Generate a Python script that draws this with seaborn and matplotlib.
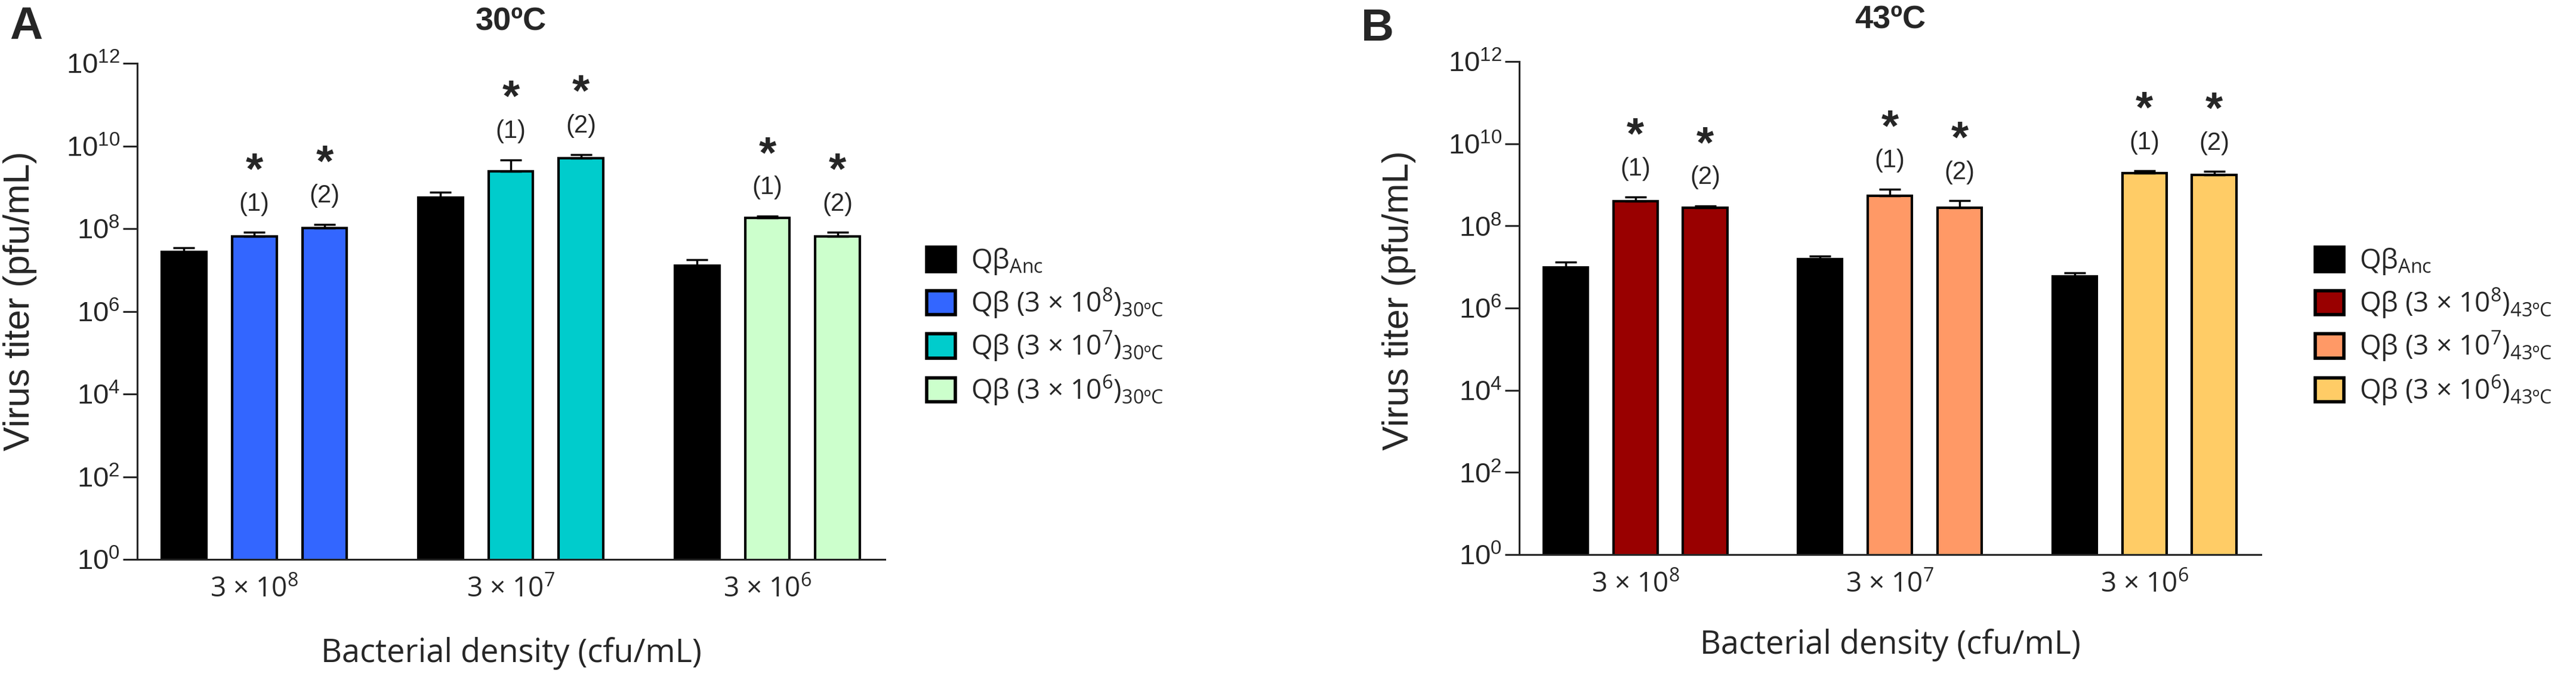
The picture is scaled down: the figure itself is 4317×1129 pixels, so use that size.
import numpy as np
import pandas as pd
import matplotlib
matplotlib.use("Agg")
import matplotlib.pyplot as plt
import seaborn as sns
from matplotlib.patches import Patch

sns.set_style("ticks")
plt.rcParams["font.family"] = ["Liberation Sans", "DejaVu Sans"]

# x categories (bacterial density)
densities = ["3e8", "3e7", "3e6"]
density_labels = ["3 × 10$\\mathregular{^{8}}$", "3 × 10$\\mathregular{^{7}}$", "3 × 10$\\mathregular{^{6}}$"]
lines = ["Anc", "(1)", "(2)"]

# 30 C panel: mean titers (pfu/mL) and SEM
anc_30 = [2.75e7, 5.75e8, 1.26e7]
anc_30_err = [0.75e7, 1.85e8, 0.54e7]
evo1_30 = [6.6e7, 2.45e9, 1.8e8]
evo1_30_err = [1.5e7, 2.15e9, 0.2e8]
evo2_30 = [1.05e8, 5.1e9, 6.6e7]
evo2_30_err = [0.21e8, 1.1e9, 1.5e7]

# 43 C panel
anc_43 = [9.8e6, 1.55e7, 6.0e6]
anc_43_err = [3.4e6, 0.31e7, 1.2e6]
evo1_43 = [4.0e8, 5.4e8, 1.9e9]
evo1_43_err = [1.0e8, 2.5e8, 0.3e9]
evo2_43 = [2.8e8, 2.8e8, 1.74e9]
evo2_43_err = [0.3e8, 1.3e8, 0.36e9]

colors_30 = ["#3366FF", "#00CCCC", "#CCFFCC"]
colors_43 = ["#990000", "#FF9966", "#FFCC66"]


def make_df(anc, evo1, evo2):
    rows = []
    for i, d in enumerate(densities):
        rows.append((d, "Anc", anc[i]))
        rows.append((d, "(1)", evo1[i]))
        rows.append((d, "(2)", evo2[i]))
    return pd.DataFrame(rows, columns=["density", "line", "titer"])


def draw_panel(ax, anc, anc_err, evo1, evo1_err, evo2, evo2_err, colors, temp):
    df = make_df(anc, evo1, evo2)
    sns.barplot(data=df, x="density", y="titer", hue="line", order=densities,
                hue_order=lines, palette=["black", "white", "white"], width=0.822,
                gap=0.365, errorbar=None, legend=False, ax=ax,
                edgecolor="black", linewidth=3, saturation=1)
    ax.set_yscale("log")
    vals = [anc, evo1, evo2]
    errs = [anc_err, evo1_err, evo2_err]
    bar_conts = list(ax.containers)
    for h, cont in enumerate(bar_conts):
        xs = []
        for i, p in enumerate(cont.patches):
            if h > 0:
                p.set_facecolor(colors[i])
            xs.append(p.get_x() + p.get_width() / 2)
        v = np.array(vals[h])
        e = np.array(errs[h])
        ax.errorbar(xs, v, yerr=[np.zeros_like(e), e], fmt="none", ecolor="black",
                    elinewidth=2.5, capsize=13, capthick=2.5, zorder=1)
        if h > 0:
            for x, top in zip(xs, v + e):
                ax.text(x, top * 10 ** 0.69, f"({h})", ha="center", va="center",
                        fontsize=30)
                ax.text(x, top * 10 ** 1.47, "*", ha="center", va="center",
                        fontsize=54, fontweight="bold")

    ax.set_ylim(1, 1e12)
    ax.set_xlim(-0.456, 2.458)
    ax.set_yticks([10.0 ** k for k in range(0, 13, 2)])
    ax.set_yticklabels(["10$\\mathregular{^{%d}}$" % k for k in range(0, 13, 2)],
                       fontsize=34)
    ax.yaxis.set_minor_locator(matplotlib.ticker.NullLocator())
    ax.set_xticks(range(3))
    ax.set_xticklabels(density_labels, fontsize=33, family="Open Sans")
    ax.tick_params(axis="x", length=0, pad=20)
    ax.tick_params(axis="y", length=17, width=2.2, pad=4)
    for s in ["left", "bottom"]:
        ax.spines[s].set_linewidth(2.2)
    sns.despine(ax=ax)
    ax.set_ylabel("Virus titer (pfu/mL)", fontsize=44, va="center")
    ax.set_xlabel("Bacterial density (cfu/mL)", fontsize=39, family="Open Sans",
                  va="center")
    ax.set_title(f"{temp}ºC", fontsize=39, fontweight="bold", pad=40)

    handles = [Patch(facecolor="black", edgecolor="black", linewidth=4)]
    labels = ["Qβ$\\mathregular{_{Anc}}$"]
    for c, d in zip(colors, ["8", "7", "6"]):
        handles.append(Patch(facecolor=c, edgecolor="black", linewidth=4))
        labels.append("Qβ (3 × 10$\\mathregular{^{%s}}$)$\\mathregular{_{%sºC}}$" % (d, temp))
    return handles, labels


fig = plt.figure(figsize=(43.17, 11.29), dpi=100)
axA = fig.add_axes([0.0533, 0.170, 0.2902, 0.736])
axB = fig.add_axes([0.5898, 0.1771, 0.2879, 0.7316])

hA, lA = draw_panel(axA, anc_30, anc_30_err, evo1_30, evo1_30_err, evo2_30,
                    evo2_30_err, colors_30, 30)
hB, lB = draw_panel(axB, anc_43, anc_43_err, evo1_43, evo1_43_err, evo2_43,
                    evo2_43_err, colors_43, 43)

axA.yaxis.set_label_coords(-0.157, 0.521)
axB.yaxis.set_label_coords(-0.162, 0.515)
axA.xaxis.set_label_coords(0.5, -0.189)
axB.xaxis.set_label_coords(0.5, -0.183)

for h, l, x in [(hA, lA, 0.3597), (hB, lB, 0.8988)]:
    fig.legend(h, l, loc="center left", bbox_to_anchor=(x, 0.515), frameon=False,
               borderpad=0, borderaxespad=0, handlelength=1.05,
               handleheight=0.98, handletextpad=0.57, labelspacing=0.35,
               prop={"family": "Open Sans", "size": 33})

fig.text(0.0100, 0.960, "A", fontsize=55, fontweight="bold", ha="center", va="center")
fig.text(0.5347, 0.957, "B", fontsize=55, fontweight="bold", ha="center", va="center")

fig.savefig("out.png", dpi=100)
